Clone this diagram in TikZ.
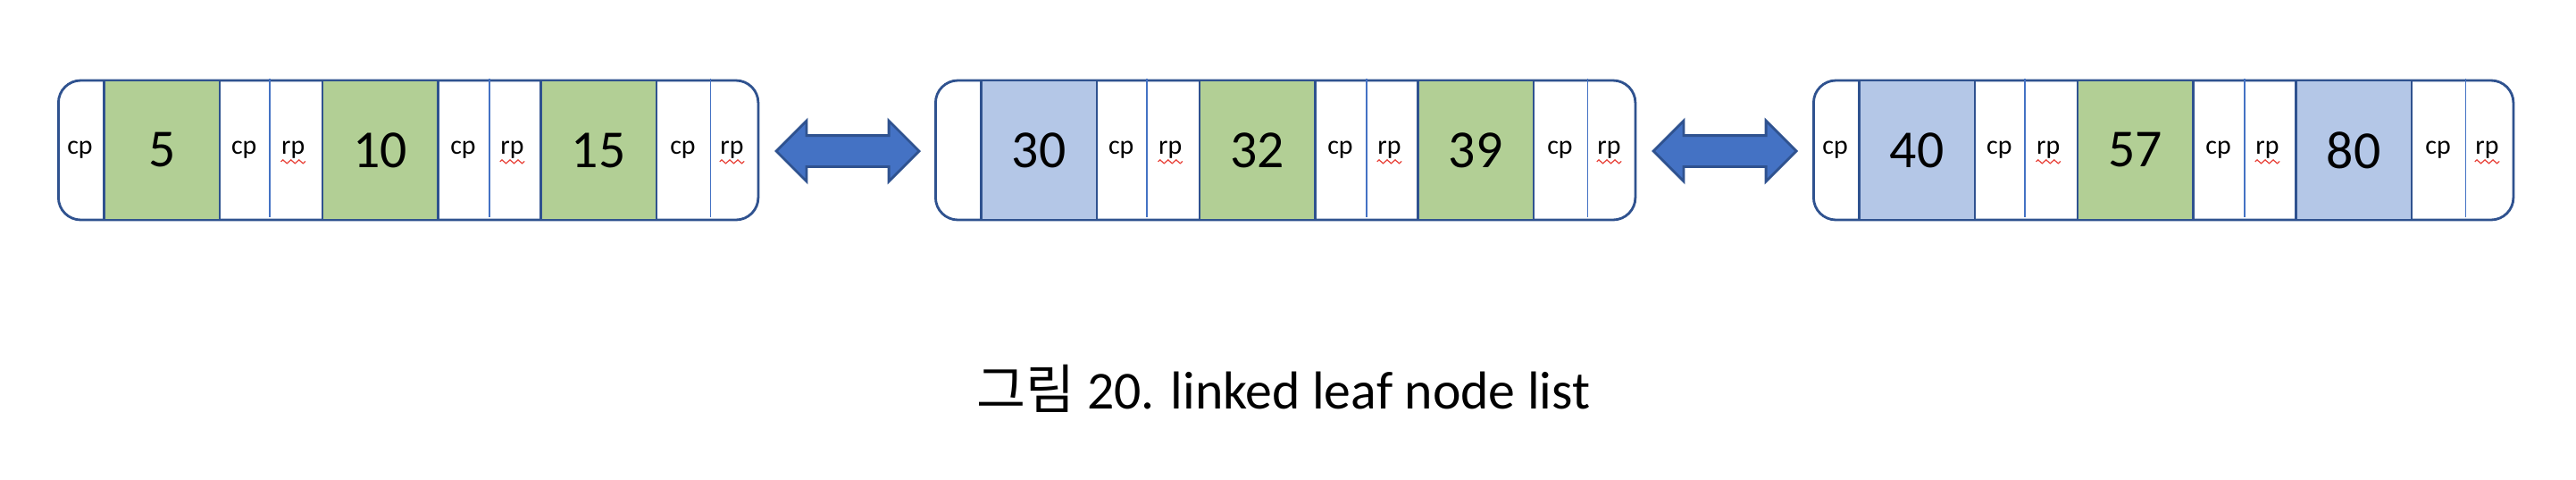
\documentclass[tikz,border=0pt]{standalone}
\usepackage{fontspec}
\setmainfont{Carlito}
\newfontfamily\kofont{Noto Sans CJK KR}
\usetikzlibrary{shapes.arrows,decorations.pathmorphing}
\definecolor{edgeblue}{HTML}{2F528F}
\definecolor{lineblue}{HTML}{4472C4}
\definecolor{keygreen}{HTML}{B2CF95}
\definecolor{keyblue}{HTML}{B4C7E7}
\definecolor{wavyred}{HTML}{E8433A}
\tikzset{
  leaf/.style={draw=edgeblue,line width=0.8pt,rounded corners=0.25cm,minimum width=7.835cm,minimum height=1.56cm,inner sep=0pt},
  key/.style={draw=edgeblue,line width=0.8pt,minimum width=1.295cm,minimum height=1.56cm,inner sep=0pt,font=\fontsize{17}{19}\selectfont},
  ptr/.style={inner sep=0pt,font=\fontsize{8.5}{10}\selectfont},
  split/.style={draw=lineblue,line width=0.45pt},
  squiggle/.style={draw=wavyred,line width=0.35pt,decorate,decoration={zigzag,segment length=0.9mm,amplitude=0.2mm}},
  darrow/.style={double arrow,draw=edgeblue,fill=lineblue,line width=0.8pt,inner xsep=0pt,inner ysep=0.16cm,
    double arrow head extend=0.165cm,minimum height=1.6cm,minimum width=0.65cm}
}
\begin{document}
\begin{tikzpicture}
\useasboundingbox (0,0) rectangle (28.84,5.36);
\foreach \b/\L/\first/\ka/\kb/\kc/\ca/\cb/\cc in {1/0.64/cp/5/10/15/keygreen/keygreen/keygreen,2/10.46//30/32/39/keyblue/keygreen/keygreen,3/20.29/cp/40/57/80/keyblue/keygreen/keyblue}{
  \node[leaf,anchor=west] (box\b) at (\L,3.68) {};
  \node[ptr] (f\b) at (\L+0.255,3.68) {\first};
  \foreach \i/\k/\c/\t in {0/\ka/\ca/0.575,1/\kb/\cb/0.59,2/\kc/\cc/0.62}{
    \node[key,fill=\c,anchor=west] (k\b\i) at (\L+0.51+2.445*\i,3.68) {\k};
    \draw[split] (\L+1.805+2.445*\i+\t,4.48) -- (\L+1.805+2.445*\i+\t,2.93);
    \node[ptr] (c\b\i) at (\L+1.805+2.445*\i+\t/2,3.68) {cp};
    \node[ptr] (r\b\i) at (\L+1.805+2.445*\i+\t/2+0.55,3.68) {rp};
    \draw[squiggle] ([yshift=-0.8mm]r\b\i.base west) -- ([yshift=-0.8mm]r\b\i.base east);
  }
}
\node[darrow] (arr1) at (9.49,3.67) {};
\node[darrow] (arr2) at (19.31,3.67) {};
\node[anchor=base,font=\fontsize{17}{20}\selectfont] (cap) at (14.37,0.79) {{\kofont 그림} 20. linked leaf node list};
\end{tikzpicture}
\end{document}
